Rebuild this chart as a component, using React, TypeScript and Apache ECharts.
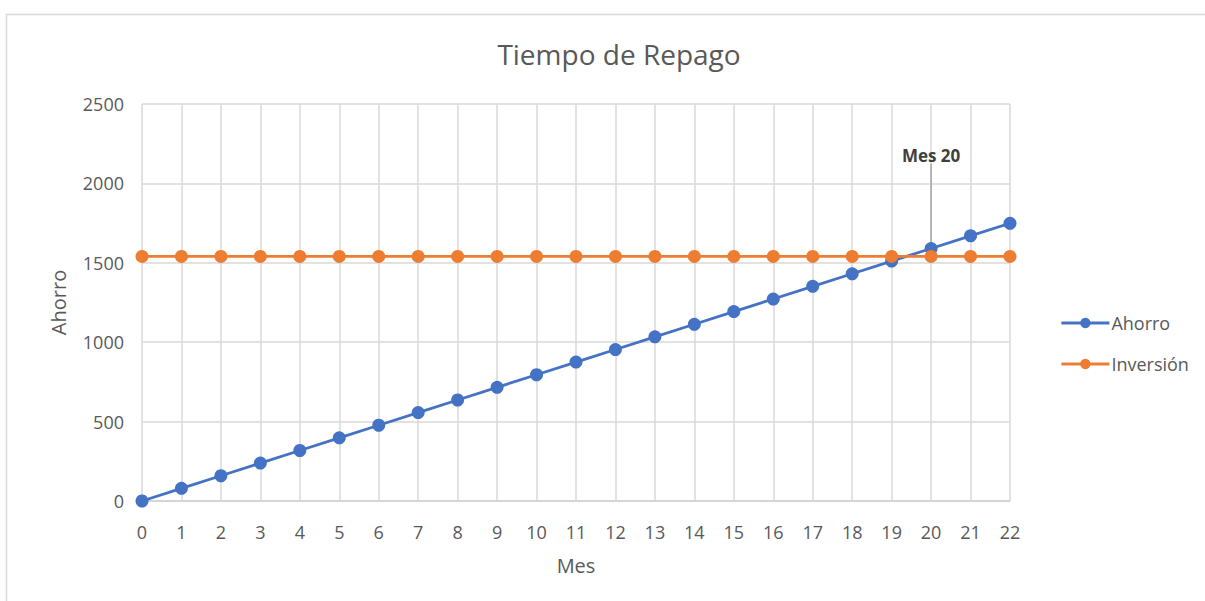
import React, { useEffect, useRef } from "react";
import * as echarts from "echarts";

const months = ["0","1","2","3","4","5","6","7","8","9","10","11","12","13","14","15","16","17","18","19","20","21","22"];
const ahorro = [0, 80, 159, 239, 318, 398, 477, 557, 636, 716, 795, 875, 954, 1034, 1113, 1193, 1272, 1352, 1431, 1511, 1590, 1670, 1749];
const inversion = [1540, 1540, 1540, 1540, 1540, 1540, 1540, 1540, 1540, 1540, 1540, 1540, 1540, 1540, 1540, 1540, 1540, 1540, 1540, 1540, 1540, 1540, 1540];
const annotIndex = 20;
const annotText = "Mes 20";

const FONT = "'Open Sans', 'Noto Sans', sans-serif";
const TXT = "#595959";

export default function App() {
  const ref = useRef<HTMLDivElement>(null);
  useEffect(() => {
    if (!ref.current) return;
    const chart = echarts.init(ref.current, undefined, { renderer: "svg" });
    chart.setOption({
      animation: false,
      backgroundColor: "#ffffff",
      textStyle: { fontFamily: FONT },
      title: {
        text: "Tiempo de Repago",
        left: 614,
        textAlign: "center",
        top: 35,
        textStyle: { fontFamily: FONT, fontSize: 28, fontWeight: "normal", color: TXT },
      },
      grid: { left: 142, top: 104, width: 868, height: 397, containLabel: false },
      legend: {
        orient: "vertical",
        left: 1055,
        top: 307,
        itemGap: 19,
        itemWidth: 48,
        itemHeight: 13,
        lineStyle: { width: 2.8 },
        textStyle: { fontFamily: FONT, fontSize: 18, lineHeight: 22, color: TXT, padding: [0, 0, 0, -3] },
        data: ["Ahorro", "Inversión"],
      },
      graphic: [
        {
          type: "rect",
          left: 4,
          top: 12,
          shape: { width: 1230, height: 620 },
          style: { fill: "none", stroke: "#d9d9d9", lineWidth: 1.5 },
          silent: true,
          z: -10,
        },
      ],
      xAxis: {
        type: "category",
        data: months,
        boundaryGap: false,
        name: "Mes",
        nameLocation: "middle",
        nameGap: 54,
        nameTextStyle: { fontFamily: FONT, fontSize: 20, color: TXT },
        axisLine: { show: true, lineStyle: { color: "#d0d0d0", width: 1.5 } },
        axisTick: { show: false },
        axisLabel: { fontFamily: FONT, fontSize: 18, color: TXT, margin: 22 },
        splitLine: { show: true, lineStyle: { color: "#d9d9d9", width: 1.5 } },
      },
      yAxis: {
        type: "value",
        min: 0,
        max: 2500,
        interval: 500,
        name: "Ahorro",
        nameLocation: "middle",
        nameGap: 74,
        nameRotate: 90,
        nameTextStyle: { fontFamily: FONT, fontSize: 20, color: TXT },
        axisLine: { show: false },
        axisTick: { show: false },
        axisLabel: { fontFamily: FONT, fontSize: 18, color: TXT, margin: 18, formatter: (v: number) => String(v) },
        splitLine: { show: true, lineStyle: { color: "#d9d9d9", width: 1.5 } },
      },
      series: [
        {
          name: "Ahorro",
          type: "line",
          data: ahorro.map((v, i) =>
            i === annotIndex
              ? {
                  value: v,
                  label: {
                    show: true,
                    formatter: annotText,
                    position: "top",
                    fontFamily: FONT,
                    fontSize: 17,
                    fontWeight: "bold",
                    color: "#404040",
                  },
                  labelLine: { show: true, lineStyle: { color: "#a6a6a6", width: 1.5 } },
                }
              : v
          ),
          labelLayout: (p: any) => (p.dataIndex === annotIndex ? { dy: -73 } : {}),
          labelLine: { show: true, lineStyle: { color: "#a6a6a6", width: 1.5 } },
          symbol: "circle",
          symbolSize: 13,
          z: 3,
          itemStyle: { color: "#4472c4" },
          lineStyle: { color: "#4472c4", width: 2.8 },
        },
        {
          name: "Inversión",
          type: "line",
          data: inversion,
          symbol: "circle",
          symbolSize: 13,
          z: 4,
          itemStyle: { color: "#ed7d31" },
          lineStyle: { color: "#ed7d31", width: 2.8 },
        },
      ],
    });
    return () => chart.dispose();
  }, []);
  return (
    <div
      ref={ref}
      style={{ position: "fixed", left: 0, top: 0, width: 1205, height: 601 }}
    />
  );
}
